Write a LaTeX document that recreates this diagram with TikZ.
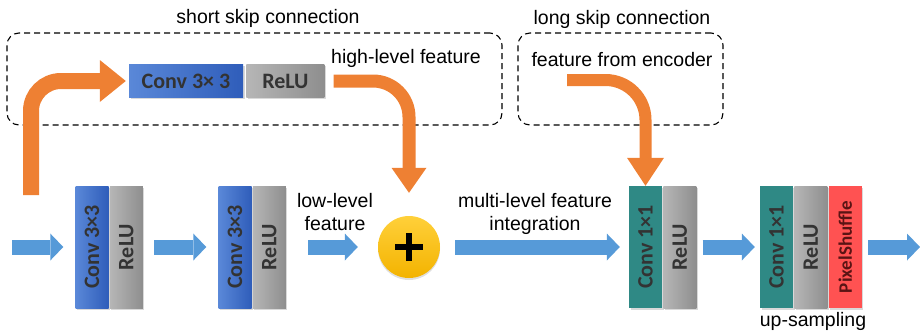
\documentclass[tikz,border=0pt]{standalone}
\usepackage{fontspec}
\setmainfont{Liberation Sans}
\newfontfamily\blockfont{Carlito}
\usetikzlibrary{arrows.meta,positioning,shadows}

\definecolor{convlight}{HTML}{5A88D8}
\definecolor{convdark}{HTML}{2F5DBA}
\definecolor{relulight}{HTML}{B6B6B6}
\definecolor{reludark}{HTML}{8E8E8E}
\definecolor{pointteal}{HTML}{2F8985}
\definecolor{shufflered}{HTML}{FF5252}
\definecolor{shuffletext}{HTML}{5A1414}
\definecolor{flowblue}{HTML}{569AD8}
\definecolor{skiporange}{HTML}{EE8033}
\definecolor{plustop}{HTML}{FFD03A}
\definecolor{plusbottom}{HTML}{F3B300}

\begin{document}
\begin{tikzpicture}[x=1pt,y=-1pt,font=\fontsize{19.5}{23}\selectfont,
 skipbox/.style={draw,line width=1.1pt,dash pattern=on 6pt off 4pt,rounded corners=12pt,minimum height=92pt,minimum width=#1},
 layer/.style={inner sep=0pt,minimum width=33pt,minimum height=122pt,text=black!80,
  font=\blockfont\bfseries\fontsize{22}{26}\selectfont,
  drop shadow={shadow xshift=1.5pt,shadow yshift=-1.5pt,opacity=.3}},
 conv/.style={layer,left color=convlight,right color=convdark},
 relu/.style={layer,left color=relulight,right color=reludark},
 point/.style={layer,fill=pointteal},
 shuffle/.style={layer,fill=shufflered,text=shuffletext,font=\blockfont\bfseries\fontsize{19}{22}\selectfont},
 adder/.style={circle,minimum size=62pt,inner sep=0pt,top color=plustop,bottom color=plusbottom,
  drop shadow={shadow xshift=0pt,shadow yshift=-2pt,opacity=.25},
  path picture={\draw[line width=6pt] ([xshift=-14pt]path picture bounding box.center) -- ([xshift=14pt]path picture bounding box.center);
   \draw[line width=6pt] ([yshift=-14pt]path picture bounding box.center) -- ([yshift=14pt]path picture bounding box.center);}},
 flow/.style={draw=flowblue,line width=15pt,-{Triangle[width=27pt,length=13pt,line width=0pt]}},
 skip/.style={draw=skiporange}]

\useasboundingbox (0,0) rectangle (920,333);

% dashed frames for the two skip paths
\node[skipbox=495pt] (shortbox) at (254.5,79) {};
\node[skipbox=205pt] (longbox) at (620.5,79) {};
\node (shorttitle) at (268,18) {short skip connection};
\node (longtitle) at (622,19) {long skip connection};

\node[conv,minimum width=114pt,minimum height=33pt] (topconv) at (186,81) {Conv 3× 3};
\node[relu,minimum width=78pt,minimum height=33pt,right=3pt of topconv] (toprelu) {ReLU};
\node (high) at (406,58) {high-level feature};
\node (encoder) at (622,60) {feature from encoder};

% main row
\node[conv] (conva) at (92,247) {\rotatebox{90}{Conv 3×3}};
\node[relu,right=1pt of conva] (relua) {\rotatebox{90}{ReLU}};
\node[conv] (convb) at (235,247) {\rotatebox{90}{Conv 3×3}};
\node[relu,right=1pt of convb] (relub) {\rotatebox{90}{ReLU}};
\node[adder] (plus) at (409,247) {};
\node[point] (convc) at (645.5,247) {\rotatebox{90}{Conv 1×1}};
\node[relu,right=1pt of convc] (reluc) {\rotatebox{90}{ReLU}};
\node[point] (convd) at (776.5,247) {\rotatebox{90}{Conv 1×1}};
\node[relu,right=1pt of convd] (relud) {\rotatebox{90}{ReLU}};
\node[shuffle,right=1pt of relud] (shuf) {\rotatebox{90}{PixelShuffle}};

\node[align=center] (low) at (335,212) {low-level\\feature};
\node[align=center] (multi) at (535,214) {multi-level feature\\integration};
\node (up) at (813,321) {up-sampling};

\coordinate (in) at (12,247);
\coordinate (out) at (920,247);
\foreach \a/\b/\s/\e in {in/conva.west/0pt/12pt, relua.east/convb.west/11pt/12pt, relub.east/plus.west/22pt/20pt,
  plus.east/convc.west/15pt/9pt, reluc.east/convd.west/6pt/5pt, shuf.east/out/6pt/0pt}
  {\draw[flow,shorten <=\s,shorten >=\e] (\a) -- (\b);}

% orange skip arrows
\coordinate (skipin) at (31,195);
\coordinate (encout) at (567,80);
\draw[skip,line width=16pt,rounded corners=30pt,-{Triangle[width=42pt,length=26pt,line width=0pt]},shorten >=3pt] (skipin) |- (topconv.west);
\draw[skip,line width=13pt,rounded corners=36pt,-{Triangle[width=35pt,length=25pt,line width=0pt]},shorten <=9pt,shorten >=23pt] (toprelu.east) -| (plus.north);
\draw[skip,line width=12pt,rounded corners=40pt,-{Triangle[width=37pt,length=28pt,line width=0pt]}] (encout) -| (convc.north);

\end{tikzpicture}
\end{document}
